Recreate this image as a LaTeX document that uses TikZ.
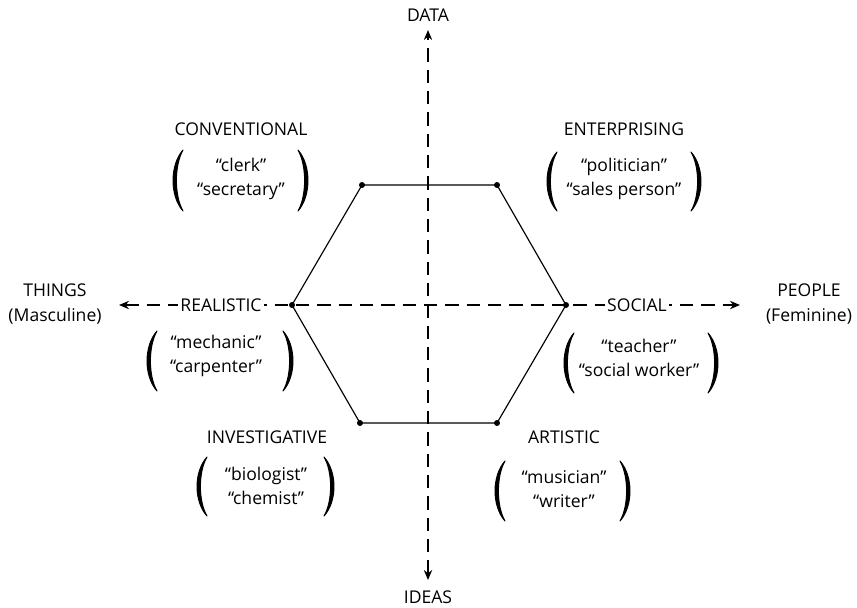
\documentclass[tikz,border=0pt]{standalone}
\usepackage{fontspec}
\setmainfont{Open Sans}
\usetikzlibrary{arrows.meta, positioning, calc}
\tikzset{
    axis_line/.style = {dash pattern=on 4mm off 2.4mm, line width=0.4mm},
    axis_label/.style = {inner sep=0pt, align=center,
        font=\fontsize{15}{21}\selectfont},
    type_label/.style = {inner sep=0.8mm, fill=white,
        font=\fontsize{15}{21}\selectfont},
    job_list/.style = {inner sep=0pt, align=center,
        font=\fontsize{15}{20.5}\selectfont},
    hex_dot/.style = {circle, fill=black, inner sep=0pt, minimum size=1.8mm},
    hex_side/.style = {line width=0.35mm},
}
% big round bracket: x of its tips, top, bottom, bulge (<0 opens right)
\newcommand{\jobparen}[4]{%
    \filldraw[line width=0.3mm, line join=round] (#1,#2)
        .. controls ({#1+1.33*(#4)},{#2+0.25*(#3-#2)})
           and ({#1+1.33*(#4)},{#3-0.25*(#3-#2)}) .. (#1,#3)
        .. controls ({#1+1.33*(#4)-4.5*sign(#4)},{#3-0.25*(#3-#2)})
           and ({#1+1.33*(#4)-4.5*sign(#4)},{#2+0.25*(#3-#2)}) .. cycle;}

\begin{document}
\begin{tikzpicture}[x=0.3mm, y=-0.3mm, >={Stealth[length=3mm, width=2.5mm]}]
    \useasboundingbox (0,0) rectangle (857,607);

    % axes
    \node[axis_label] (data) at (428,15) {DATA};
    \node[axis_label] (ideas) at (428,597) {IDEAS};
    \node[axis_label] (things) at (55,304) {THINGS\\(Masculine)};
    \node[axis_label] (people) at (809,304) {PEOPLE\\(Feminine)};
    \coordinate (data_tip) at (428,30);
    \coordinate (ideas_tip) at (428,580);
    \coordinate (things_tip) at (119,305);
    \coordinate (people_tip) at (740,305);
    \draw[axis_line, <->] (ideas_tip) -- (data_tip);
    \draw[axis_line, <->] (things_tip) -- (people_tip);

    % hexagon
    \node[hex_dot] (c) at (362,185) {};
    \node[hex_dot] (e) at (497,185) {};
    \node[hex_dot] (s) at (566,305) {};
    \node[hex_dot] (a) at (497,423) {};
    \node[hex_dot] (i) at (360,423) {};
    \node[hex_dot] (r) at (292,305) {};
    \draw[hex_side] (c.center) -- (e.center) -- (s.center) -- (a.center)
        -- (i.center) -- (r.center) -- cycle;

    % the six types
    \node[type_label] (conventional) at (241,129) {CONVENTIONAL};
    \node[type_label] (enterprising) at (624,129) {ENTERPRISING};
    \node[type_label] (realistic) at (221,305) {REALISTIC};
    \node[type_label] (social) at (637,305) {SOCIAL};
    \node[type_label] (investigative) at (267,437) {INVESTIGATIVE};
    \node[type_label] (artistic) at (564,437) {ARTISTIC};

    % jobs
    \node[job_list] (conv_jobs) at (241,179) {“clerk”\\“secretary”};
    \node[job_list] (ent_jobs) at (624,179) {“politician”\\“sales person”};
    \node[job_list] (real_jobs) at (216,356) {“mechanic”\\“carpenter”};
    \node[job_list] (soc_jobs) at (639,358) {“teacher”\\“social worker”};
    \node[job_list] (inv_jobs) at (266,486) {“biologist”\\“chemist”};
    \node[job_list] (art_jobs) at (564,489) {“musician”\\“writer”};

    \jobparen{183}{150}{211}{-10}
    \jobparen{298}{150}{211}{10}
    \jobparen{557}{152}{211}{-10}
    \jobparen{691}{152}{211}{10}
    \jobparen{157}{331}{391}{-10}
    \jobparen{283}{331}{391}{10}
    \jobparen{574}{333}{393}{-10}
    \jobparen{708}{333}{393}{10}
    \jobparen{207}{457}{516}{-10}
    \jobparen{324}{457}{516}{10}
    \jobparen{505}{461}{521}{-10}
    \jobparen{620}{461}{521}{10}
\end{tikzpicture}
\end{document}
